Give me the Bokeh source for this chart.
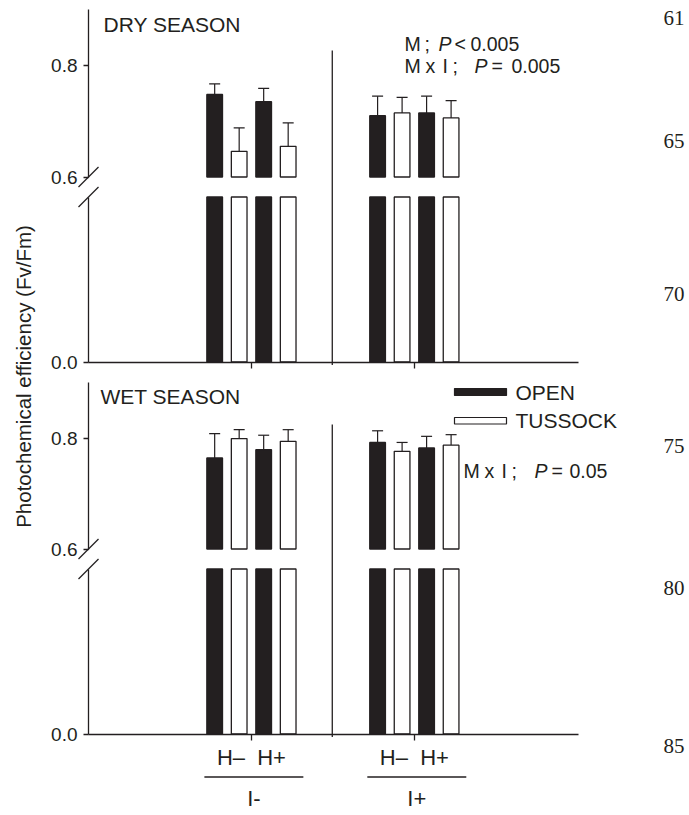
import math
from bokeh.plotting import figure
from bokeh.models import (Range1d, LinearAxis, FixedTicker, PrintfTickFormatter,
                          ColumnDataSource, Whisker, TeeHead)
from bokeh.core.properties import value
from bokeh.embed import file_html
from bokeh.resources import INLINE

# ---------------- data ----------------
groups = ["I-", "I+"]
herbivory = ["H–", "H+"]
microsites = ["OPEN", "TUSSOCK"]
seasons = ["DRY SEASON", "WET SEASON"]

# order inside each I group: OPEN H–, TUSSOCK H–, OPEN H+, TUSSOCK H+
dry_mean = [0.748, 0.646, 0.735, 0.655, 0.710, 0.715, 0.715, 0.706]
dry_err = [0.019, 0.042, 0.024, 0.042, 0.035, 0.028, 0.030, 0.031]
wet_mean = [0.764, 0.799, 0.779, 0.794, 0.792, 0.776, 0.782, 0.787]
wet_err = [0.044, 0.016, 0.026, 0.021, 0.021, 0.016, 0.021, 0.019]

upper_ticks = [0.6, 0.8]
lower_ticks = [0.0]
upper_limits = (0.6, 0.9)
y_title = "Photochemical efficiency (Fv/Fm)"
line_numbers = ["61", "65", "70", "75", "80", "85"]

# statistics annotations, token by token (P in italics)
dry_stats = [["M", ";", "P", "<", "0.005"],
             ["M", "x", "I", ";", "P", "=", "0.005"]]
wet_stats = [["M", "x", "I", ";", "P", "=", "0.05"]]

# ---------------- layout / style ----------------
INK = "#231f20"
SANS = "Liberation Sans"
SERIF = "Liberation Serif"
PAGE = 0
W, H = 686, 812
X0_PX, UNIT_PX = 88.0, 24.5          # x = 0 at page px 88, one bar slot = 24.5 px
GROUP_X = [6.65, 13.3]
SEP_X = 9.95
BAR_W = 0.64
LOWER_TOP = 0.55                      # value at the top of the lower (broken) segment
AXIS_END = 20
NBSP = "\u00a0"

# pixel anchors (page px) of each panel segment
panels = {
    "dry": dict(up=((0.6, 176.5), (0.8, 65.0)), lo=((0.0, 361.5), (LOWER_TOP, 196.5))),
    "wet": dict(up=((0.6, 548.5), (0.8, 437.5)), lo=((0.0, 733.5), (LOWER_TOP, 568.5))),
}


def rng_from(anchors):
    (v1, p1), (v2, p2) = anchors
    b = (v2 - v1) / (p2 - p1)
    a = v1 - b * p1
    return Range1d(start=a + b * (PAGE + H), end=a + b * PAGE)


p = figure(width=W, height=H,
           x_range=Range1d((PAGE - X0_PX) / UNIT_PX, (PAGE + W - X0_PX) / UNIT_PX),
           y_range=Range1d(PAGE + H, PAGE),
           x_axis_type=None, y_axis_type=None, toolbar_location=None,
           output_backend="svg", min_border=0, title=None)
p.outline_line_color = None
p.background_fill_color = "white"
p.border_fill_color = "white"
p.extra_x_ranges = {"px": Range1d(PAGE, PAGE + W)}
extra = {}
for key, pan in panels.items():
    extra[key + "_up"] = rng_from(pan["up"])
    extra[key + "_lo"] = rng_from(pan["lo"])
p.extra_y_ranges = extra

# bar positions
xs, fills = [], []
for gi, g in enumerate(groups):
    for hi, h in enumerate(herbivory):
        for mi, m in enumerate(microsites):
            xs.append(GROUP_X[gi] + (2 * hi + mi - 1.5))
            fills.append(INK if m == "OPEN" else "white")


def txt(x, y, s, size, align="left", font=SANS, style="normal", angle=0.0, xr="px"):
    p.text(x=[x], y=[y], text=[s], x_range_name=xr, text_font=value(font),
           text_font_size=size, text_font_style=style, text_align=align,
           text_baseline="middle", text_color=INK, angle=angle)


for key, mean, err in (("dry", dry_mean, dry_err), ("wet", wet_mean, wet_err)):
    up, lo = key + "_up", key + "_lo"
    # upper segment bars
    p.vbar(x=xs, width=BAR_W, bottom=upper_limits[0], top=mean, y_range_name=up,
           fill_color=fills, line_color=INK, line_width=1.3)
    # lower segment bars
    p.vbar(x=xs, width=BAR_W, bottom=0.0, top=[min(v, LOWER_TOP) for v in mean],
           y_range_name=lo, fill_color=fills, line_color=INK, line_width=1.3)
    src = ColumnDataSource(dict(x=xs, lower=mean, upper=[m + e for m, e in zip(mean, err)]))
    p.add_layout(Whisker(source=src, base="x", lower="lower", upper="upper",
                         dimension="height", y_range_name=up, line_color=INK,
                         line_width=1.2,
                         upper_head=TeeHead(size=11, line_color=INK, line_width=1.2),
                         lower_head=None))
    # y axes (broken)
    for rname, bounds, ticks in ((up, upper_limits, upper_ticks),
                                 (lo, (0.0, LOWER_TOP), lower_ticks)):
        ax = LinearAxis(y_range_name=rname, fixed_location=0, bounds=bounds,
                        ticker=FixedTicker(ticks=ticks),
                        formatter=PrintfTickFormatter(format="%.1f"),
                        axis_line_color=INK, axis_line_width=1.3,
                        major_tick_line_color=INK, major_tick_line_width=1.3,
                        major_tick_in=0, major_tick_out=5,
                        minor_tick_line_color=None,
                        major_label_text_font=SANS, major_label_text_font_size="19px",
                        major_label_text_color=INK, major_label_standoff=6)
        p.add_layout(ax, "left")
    # x axis at 0.0
    xa = LinearAxis(y_range_name=lo, fixed_location=0, bounds=(0, AXIS_END),
                    ticker=FixedTicker(ticks=GROUP_X),
                    axis_line_color=INK, axis_line_width=1.3,
                    major_tick_line_color=INK, major_tick_line_width=1.3,
                    major_tick_in=0, major_tick_out=6, minor_tick_line_color=None,
                    major_label_text_font=SANS, major_label_text_font_size="22px",
                    major_label_text_color=INK, major_label_standoff=5)
    if key == "wet":
        lab = (NBSP * 2).join(herbivory)
        xa.major_label_overrides = {GROUP_X[0]: lab, GROUP_X[1]: lab}
    else:
        xa.major_label_text_color = None
    p.add_layout(xa, "below")

# break marks on the y axes
for a, b in ((176.5, 196.5), (548.5, 568.5)):
    for c in (a, b):
        p.segment(x0=[78], y0=[c + 10], x1=[98], y1=[c - 10], x_range_name="px",
                  line_color=INK, line_width=1.3)

# separators between I- and I+
p.segment(x0=[SEP_X, SEP_X], y0=[50, 424], x1=[SEP_X, SEP_X], y1=[364.5, 736.5],
          line_color=INK, line_width=1.3)

# season labels
txt(103, 24, seasons[0], "21px")
txt(100, 395.5, seasons[1], "21px")

# statistics (token positions in page px)
STAT_SIZE = "19.5px"
dry_x = [[404, 424, 438, 454, 470], [404, 425, 442, 452, 474, 491, 511]]
for toks, xpos, y in zip(dry_stats, dry_x, [43, 65]):
    for s, x in zip(toks, xpos):
        txt(x, y, s, STAT_SIZE, style="italic" if s == "P" else "normal")
for s, x in zip(wet_stats[0], [463, 484, 501, 511, 534, 551, 569]):
    txt(x, 470, s, STAT_SIZE, style="italic" if s == "P" else "normal")

# legend
p.quad(left=[454, 454], right=[506, 506], top=[388, 417], bottom=[395, 423.5],
       x_range_name="px", fill_color=[INK, "white"], line_color=INK, line_width=1.2)
for s, y in zip(microsites, [391.5, 420]):
    txt(515, y, s, "21px")

# y title
txt(23, 376, y_title, "20.5px", align="center", angle=math.pi / 2)

# group labels with underlines
p.segment(x0=[g - 1.92 for g in GROUP_X], x1=[g + 2.12 for g in GROUP_X],
          y0=[776.5] * 2, y1=[776.5] * 2, line_color=INK, line_width=1.3)
for g, s in zip(GROUP_X, groups):
    txt(g + 0.1, 798, s, "22px", align="center", xr="default")

# manuscript line numbers
for s, y in zip(line_numbers, [17, 140, 293, 445, 587, 745]):
    txt(663, y, s, "21px", font=SERIF)

open("out.html", "w").write(file_html(p, INLINE))
